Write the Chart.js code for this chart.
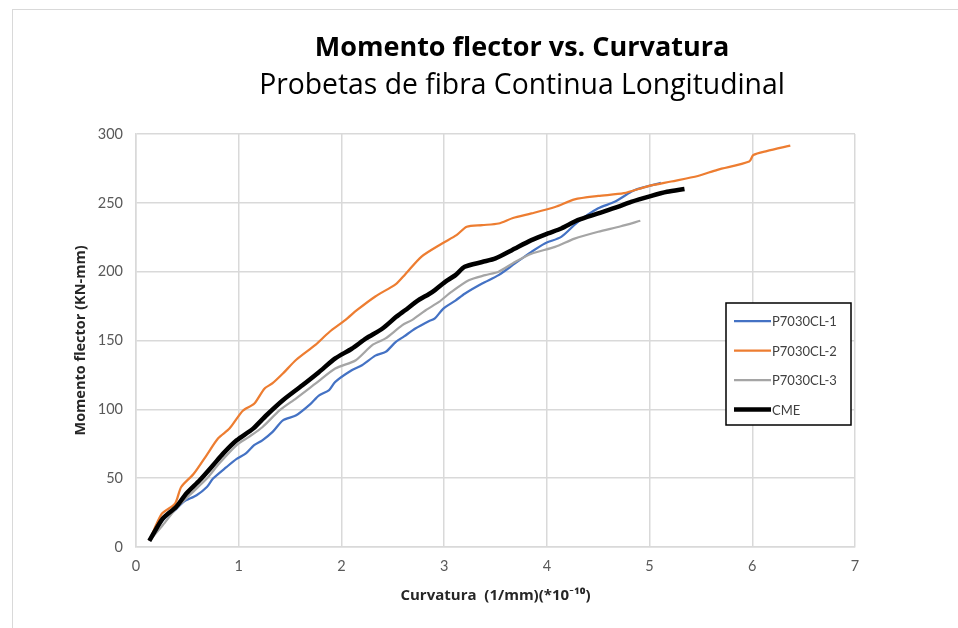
<!DOCTYPE html>
<html>
<head>
<meta charset="utf-8">
<script src="https://cdn.jsdelivr.net/npm/chart.js@4.4.1/dist/chart.umd.min.js"></script>
<style>
  body { margin: 0; background: #fff; overflow: hidden; }
  #frame { position: absolute; left: 12px; top: 9px; width: 1100px; height: 700px; border: 1px solid #d9d9d9; }
  #wrap { position: absolute; left: 0; top: 0; width: 958px; height: 628px; }
</style>
</head>
<body>
<div id="frame"></div>
<div id="wrap"><canvas id="chart" width="958" height="628"></canvas></div>
<script>
const chartTitle = "Momento flector vs. Curvatura";
const chartSubtitle = "Probetas de fibra Continua Longitudinal";
const xAxisTitle = "Curvatura  (1/mm)(*10\u207B\u00B9\u2070)";
const yAxisTitle = "Momento flector (KN-mm)";
const seriesNames = ["P7030CL-1", "P7030CL-2", "P7030CL-3", "CME"];

// P7030CL-1
const p1Curv = [0.13, 0.26, 0.38, 0.46, 0.59, 0.69, 0.75, 0.88, 0.98, 1.07, 1.15, 1.23, 1.33, 1.43, 1.56, 1.70, 1.78, 1.88, 1.94, 2.10, 2.20, 2.33, 2.43, 2.53, 2.61, 2.72, 2.85, 2.91, 2.99, 3.11, 3.20, 3.37, 3.53, 3.69, 3.85, 3.98, 4.14, 4.30, 4.50, 4.66, 4.82, 4.88, 5.11];
const p1Mom = [4.5, 19.4, 26.7, 32.7, 37.6, 43.6, 49.7, 58, 64, 68, 74, 77.5, 83.6, 92, 95.7, 104, 110, 114, 120, 128.4, 132, 139, 141.7, 149, 153, 158.7, 164, 166, 173, 179, 184, 191.4, 197.5, 206, 214.4, 220.5, 225.3, 236, 246, 250.7, 258, 260, 264.5];

// P7030CL-2
const p2Curv = [0.13, 0.25, 0.38, 0.44, 0.56, 0.69, 0.80, 0.91, 1.04, 1.15, 1.25, 1.33, 1.43, 1.56, 1.75, 1.88, 2.04, 2.15, 2.33, 2.53, 2.62, 2.78, 2.98, 3.12, 3.22, 3.37, 3.53, 3.67, 3.85, 4.08, 4.27, 4.50, 4.75, 4.98, 5.21, 5.47, 5.66, 5.97, 6.01, 6.14, 6.37];
const p2Mom = [4.5, 24, 31.5, 43.6, 53, 67, 79, 86, 99, 104, 115, 119, 126, 136, 147, 156, 165, 172, 182, 191, 198, 211, 220.5, 226.5, 232.6, 233.8, 235, 239, 242.3, 247, 252.5, 255, 257, 262, 265.5, 269.5, 274, 280, 284.7, 287.6, 291.5];

// P7030CL-3
const p3Curv = [0.13, 0.26, 0.39, 0.52, 0.69, 0.81, 0.98, 1.10, 1.23, 1.40, 1.56, 1.75, 1.94, 2.14, 2.30, 2.43, 2.59, 2.69, 2.82, 2.95, 3.07, 3.24, 3.40, 3.53, 3.69, 3.85, 4.08, 4.27, 4.50, 4.72, 4.91];
const p3Mom = [4.5, 15.8, 28, 37.6, 49.7, 60.6, 74, 80, 87, 99.4, 108, 118.8, 129.6, 135.7, 146.6, 151.5, 161, 165, 172, 178, 185.3, 193.8, 197.5, 200, 207, 213, 218, 224, 229, 233, 237];

// CME
const cmeCurv = [0.13, 0.26, 0.39, 0.49, 0.62, 0.75, 0.85, 0.98, 1.14, 1.27, 1.43, 1.62, 1.78, 1.94, 2.10, 2.24, 2.40, 2.53, 2.62, 2.75, 2.85, 2.91, 3.01, 3.11, 3.20, 3.37, 3.50, 3.66, 3.85, 4.01, 4.14, 4.30, 4.50, 4.69, 4.82, 5.01, 5.17, 5.34];
const cmeMom = [4.5, 20.6, 29, 38.8, 48.5, 59.4, 68, 77.5, 86, 95.7, 106.6, 117.5, 127, 137, 144, 151.5, 158.7, 167, 172, 179.3, 183.6, 186.6, 192.6, 197.5, 203.5, 207, 209.6, 215.6, 222.9, 227.8, 231.4, 237.4, 242.3, 247, 250.7, 254.9, 258, 260];

const xTicks = [0, 1, 2, 3, 4, 5, 6, 7];
const yTicks = [0, 50, 100, 150, 200, 250, 300];

function toPoints(xs, ys) {
    let pts = [];
    for(let i = 0; i < xs.length; i++) {
        pts.push({ x: xs[i], y: ys[i] });
    }
    return pts;
}

const tickFont = "Lato, 'Open Sans', sans-serif";
const titleFont = "'Open Sans', Lato, sans-serif";

// titles drawn centred on the (wider) chart frame
const titlePlugin = {
    id: 'titleBlock',
    afterDraw(chart) {
        let ctx = chart.ctx;
        ctx.save();
        ctx.textAlign = 'center';
        ctx.textBaseline = 'alphabetic';
        ctx.fillStyle = '#000';
        ctx.font = "bold 27px " + titleFont;
        ctx.fillText(chartTitle, 522, 56);
        ctx.font = "28.3px " + titleFont;
        ctx.fillText(chartSubtitle, 522, 94);
        ctx.restore();
    }
};

// legend box inside the plot area
const boxLegendPlugin = {
    id: 'boxLegend',
    afterDraw(chart) {
        let ctx = chart.ctx;
        let sets = chart.data.datasets;
        ctx.save();
        ctx.fillStyle = '#fff';
        ctx.fillRect(726, 303, 125, 122);
        ctx.strokeStyle = '#000';
        ctx.lineWidth = 1.5;
        ctx.strokeRect(726, 303, 125, 122);
        ctx.font = "13px " + tickFont;
        ctx.textBaseline = 'middle';
        for(let i = 0; i < sets.length; i++) {
            let y = 321 + i * 29.5;
            ctx.strokeStyle = sets[i].borderColor;
            ctx.lineWidth = sets[i].borderWidth;
            ctx.beginPath();
            ctx.moveTo(734, y);
            ctx.lineTo(771, y);
            ctx.stroke();
            ctx.fillStyle = '#404040';
            ctx.fillText(sets[i].label, 772, y + 1);
        }
        ctx.restore();
    }
};

const lineStyle = { showLine: true, pointRadius: 0, tension: 0.25, fill: false };

let ctx = document.getElementById('chart').getContext('2d');
new Chart(ctx, {
    type: 'scatter',
    data: {
        datasets: [
            Object.assign({ label: seriesNames[0], data: toPoints(p1Curv, p1Mom), borderColor: '#4472C4', borderWidth: 2.25, order: 4 }, lineStyle),
            Object.assign({ label: seriesNames[1], data: toPoints(p2Curv, p2Mom), borderColor: '#ED7D31', borderWidth: 2.25, order: 3 }, lineStyle),
            Object.assign({ label: seriesNames[2], data: toPoints(p3Curv, p3Mom), borderColor: '#A5A5A5', borderWidth: 2.25, order: 2 }, lineStyle),
            Object.assign({ label: seriesNames[3], data: toPoints(cmeCurv, cmeMom), borderColor: '#000000', borderWidth: 4.5, order: 1 }, lineStyle)
        ]
    },
    options: {
        responsive: false,
        animation: false,
        layout: {
            padding: { left: 0, right: 103, top: 134, bottom: 11 }
        },
        plugins: {
            legend: { display: false },
            title: { display: false },
            tooltip: { enabled: false }
        },
        scales: {
            x: {
                type: 'linear',
                min: 0,
                max: 7,
                afterFit: function(scale) { scale.height = 70; },
                afterBuildTicks: function(scale) {
                    scale.ticks = xTicks.map(v => ({ value: v }));
                },
                grid: { color: '#d9d9d9', lineWidth: 1.5, drawTicks: false },
                border: { color: '#d9d9d9', width: 1.5 },
                ticks: { color: '#595959', font: { family: tickFont, size: 14.5 }, padding: 11 },
                title: {
                    display: true,
                    text: xAxisTitle,
                    color: '#262626',
                    font: { family: titleFont, size: 15, weight: 'bold' },
                    padding: { top: 0, bottom: 12 }
                }
            },
            y: {
                type: 'linear',
                min: 0,
                max: 300,
                afterFit: function(scale) { scale.width = 136; },
                afterBuildTicks: function(scale) {
                    scale.ticks = yTicks.map(v => ({ value: v }));
                },
                grid: { color: '#d9d9d9', lineWidth: 1.5, drawTicks: false },
                border: { color: '#d9d9d9', width: 1.5 },
                ticks: { color: '#595959', font: { family: tickFont, size: 14.5 }, padding: 13 },
                title: {
                    display: true,
                    text: yAxisTitle,
                    color: '#262626',
                    font: { family: titleFont, size: 14.5, weight: 'bold' },
                    padding: { top: 72, bottom: 0 }
                }
            }
        }
    },
    plugins: [titlePlugin, boxLegendPlugin]
});
</script>
</body>
</html>
